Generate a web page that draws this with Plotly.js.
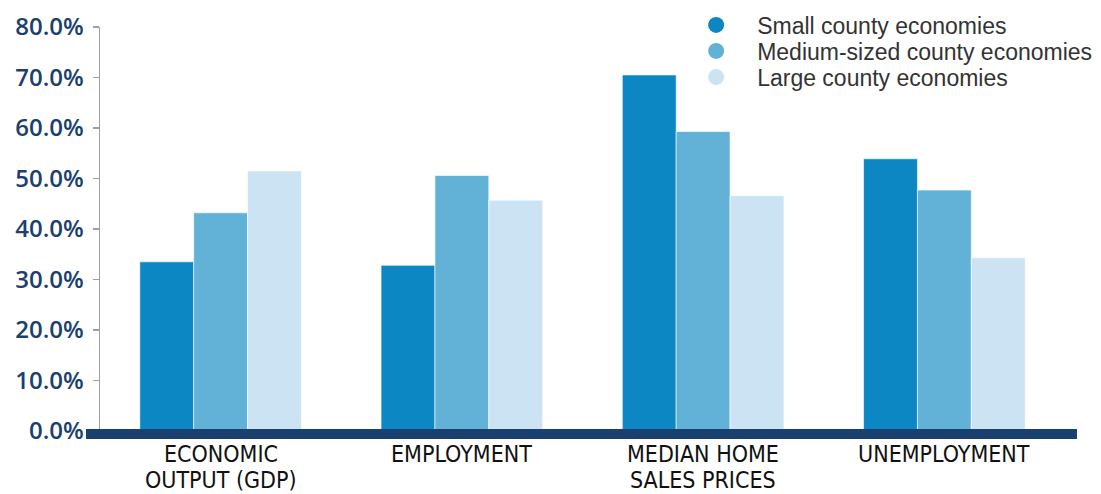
<!DOCTYPE html>
<html>
<head>
<meta charset="utf-8">
<script src="https://cdn.plot.ly/plotly-3.0.1.min.js"></script>
<style>html,body{margin:0;padding:0;background:#fff;}#chart{width:1101px;height:494px;}</style>
</head>
<body>
<div id="chart"></div>
<script>
const categories = ["ECONOMIC<br>OUTPUT (GDP)", "EMPLOYMENT", "MEDIAN HOME<br>SALES PRICES", "UNEMPLOYMENT"];
const seriesNames = ["Small county economies", "Medium-sized county economies", "Large county economies"];
const smallValues = [33.5, 32.8, 70.5, 53.9];
const mediumValues = [43.2, 50.6, 59.3, 47.7];
const largeValues = [51.5, 45.7, 46.6, 34.3];
const tickValues = [0, 10, 20, 30, 40, 50, 60, 70, 80];
const tickLabels = ["0.0%", "10.0%", "20.0%", "30.0%", "40.0%", "50.0%", "60.0%", "70.0%", "80.0%"];

const colors = ["#0c87c3", "#62b1d7", "#cbe3f2"];
const allValues = [smallValues, mediumValues, largeValues];
const legendIds = ["legend", "legend2", "legend3"];
const legendY = [1.005, 0.9406, 0.876];

const traces = [];
allValues.forEach((vals, i) => {
  traces.push({
    type: "bar",
    x: categories,
    y: vals,
    name: seriesNames[i],
    showlegend: false,
    marker: {color: colors[i], line: {color: "rgba(255,255,255,0.6)", width: 1}},
    hoverinfo: "y"
  });
});
allValues.forEach((vals, i) => {
  traces.push({
    type: "scatter",
    mode: "markers",
    x: [null],
    y: [null],
    name: seriesNames[i],
    showlegend: true,
    legend: legendIds[i],
    marker: {color: colors[i], size: 18, symbol: "circle"}
  });
});

function legendCfg(y) {
  return {
    x: 0.596,
    y: y,
    xanchor: "left",
    yanchor: "middle",
    bgcolor: "rgba(0,0,0,0)",
    itemwidth: 72,
    font: {family: "'Liberation Sans', Arial, sans-serif", size: 23, color: "#333333"},
    itemclick: false
  };
}

// category labels as annotations (tighter line spacing than tick labels allow)
const lineY = [-0.0569, -0.1213];
const annotations = [];
categories.forEach((cat) => {
  cat.split("<br>").forEach((line, j) => {
    annotations.push({
      xref: "x",
      yref: "paper",
      x: cat,
      y: lineY[j],
      xanchor: "center",
      yanchor: "middle",
      text: line,
      showarrow: false,
      font: {family: "'DejaVu Sans Condensed', 'DejaVu Sans', sans-serif", size: 23, color: "#111111"}
    });
  });
});

const layout = {
  width: 1101,
  height: 494,
  margin: {l: 100, r: 36, t: 27, b: 63, autoexpand: false},
  paper_bgcolor: "#ffffff",
  plot_bgcolor: "#ffffff",
  barmode: "group",
  bargap: 0.33,
  bargroupgap: 0,
  xaxis: {
    type: "category",
    range: [-0.5, 3.5],
    showline: false,
    showgrid: false,
    zeroline: false,
    ticks: "",
    showticklabels: false,
    fixedrange: true
  },
  yaxis: {
    range: [0, 80],
    tickvals: tickValues,
    ticktext: tickLabels,
    showgrid: false,
    zeroline: false,
    showline: true,
    linecolor: "#a0a0a0",
    linewidth: 1.5,
    ticks: "outside",
    ticklen: 6,
    tickcolor: "#a0a0a0",
    tickwidth: 1.5,
    ticklabelstandoff: 4,
    tickfont: {family: "'Open Sans', sans-serif", size: 24, weight: 600, color: "#1a4070"},
    fixedrange: true
  },
  legend: legendCfg(legendY[0]),
  legend2: legendCfg(legendY[1]),
  legend3: legendCfg(legendY[2]),
  annotations: annotations,
  shapes: [{
    type: "rect",
    xref: "paper",
    yref: "paper",
    x0: -0.0145,
    x1: 1.0124,
    y0: -0.0198,
    y1: 0.005,
    fillcolor: "#1a4070",
    line: {width: 0},
    layer: "above"
  }]
};

Plotly.newPlot("chart", traces, layout, {displayModeBar: false, staticPlot: true});
</script>
</body>
</html>
